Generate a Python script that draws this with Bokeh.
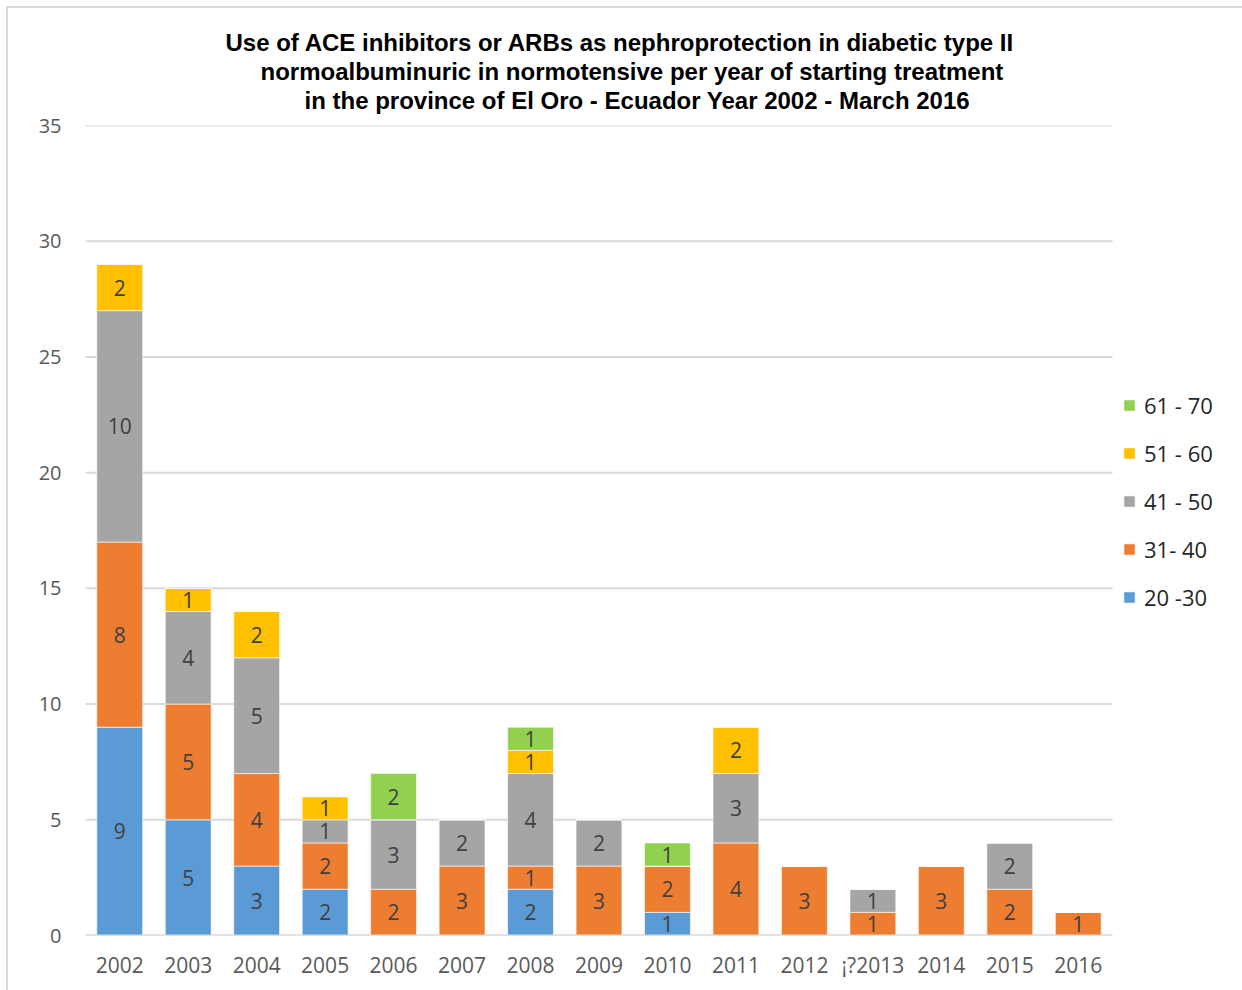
from bokeh.plotting import figure
from bokeh.models import (ColumnDataSource, Range1d, FixedTicker,
                          Legend, LegendItem, Title, LabelSet)
from bokeh.core.properties import value
from bokeh.embed import file_html
from bokeh.resources import INLINE

years = ["2002", "2003", "2004", "2005", "2006", "2007", "2008", "2009",
         "2010", "2011", "2012", "¡?2013", "2014", "2015", "2016"]
age_groups = ["20 -30", "31- 40", "41 - 50", "51 - 60", "61 - 70"]
g20_30 = [9, 5, 3, 2, 0, 0, 2, 0, 1, 0, 0, 0, 0, 0, 0]
g31_40 = [8, 5, 4, 2, 2, 3, 1, 3, 2, 4, 3, 1, 3, 2, 1]
g41_50 = [10, 4, 5, 1, 3, 2, 4, 2, 0, 3, 0, 1, 0, 2, 0]
g51_60 = [2, 1, 2, 1, 0, 0, 1, 0, 0, 2, 0, 0, 0, 0, 0]
g61_70 = [0, 0, 0, 0, 2, 0, 1, 0, 1, 0, 0, 0, 0, 0, 0]
colors = ["#5B9BD5", "#ED7D31", "#A5A5A5", "#FFC000", "#92D050"]
y_ticks = [0, 5, 10, 15, 20, 25, 30, 35]

title_lines = [
    "Use of ACE inhibitors or ARBs as nephroprotection  in diabetic type II",
    "normoalbuminuric in normotensive per year of starting treatment",
    "in the province of El Oro - Ecuador  Year 2002 - March 2016",
]

# layout (pixels)
W, H = 1242, 990
FRAME_L, FRAME_T, FRAME_B = 85, 125, 55
PLOT_W = 1027                 # width used by the 15 categories
n = len(years)
x_pos = list(range(n))
cat_px = PLOT_W / n
extra_units = (W - FRAME_L - PLOT_W) / cat_px   # room for the legend
x_lo, x_hi = -0.5, n - 0.5

series = [g20_30, g31_40, g41_50, g51_60, g61_70]
keys = ["g20_30", "g31_40", "g41_50", "g51_60", "g61_70"]
data = {"x": x_pos, "year": years}
for k, s in zip(keys, series):
    data[k] = s
source = ColumnDataSource(data)

p = figure(x_range=Range1d(x_lo, x_hi + extra_units),
           y_range=Range1d(0, 35),
           width=W, height=H, output_backend="svg",
           toolbar_location=None,
           min_border_left=FRAME_L, min_border_right=0,
           min_border_top=FRAME_T, min_border_bottom=FRAME_B)
p.title = None
p.outline_line_color = None
p.background_fill_color = "white"
p.border_fill_alpha = 0
p.styles = {
    "background-image": "linear-gradient(#d9d9d9, #d9d9d9), linear-gradient(#d9d9d9, #d9d9d9)",
    "background-position": "6px 6px, 6px 6px",
    "background-size": "2px 100%, 100% 2px",
    "background-repeat": "no-repeat, no-repeat",
    "background-color": "white",
}
p.xgrid.visible = False
p.ygrid.visible = False

# horizontal gridlines limited to the category area (behind the bars)
grid_src = ColumnDataSource(dict(y=y_ticks, x0=[x_lo] * len(y_ticks),
                                 x1=[x_hi] * len(y_ticks)))
p.segment(x0="x0", x1="x1", y0="y", y1="y", source=grid_src,
          line_color="#d9d9d9", line_width=2)

renderers = p.vbar_stack(keys, x="x", width=0.67, source=source,
                         fill_color=colors, line_color="white",
                         line_width=1, line_alpha=0.6)

# zero line drawn over the bars
p.segment(x0=[x_lo], x1=[x_hi], y0=[y_ticks[0]], y1=[y_ticks[0]],
          line_color="#d9d9d9", line_width=2)

# segment labels
lx, ly, lt = [], [], []
for i in x_pos:
    base = 0
    for s in series:
        v = s[i]
        if v > 0:
            lx.append(i)
            ly.append(base + v / 2)
            lt.append(str(v))
        base += v
lsrc = ColumnDataSource(dict(x=lx, y=ly, t=lt))
labels = LabelSet(x="x", y="y", text="t", source=lsrc,
                  text_align="center", text_baseline="middle",
                  text_font=value("Open Sans"), text_font_size=value("21px"),
                  text_color=value("#404040"))
p.add_layout(labels)

p.yaxis.ticker = FixedTicker(ticks=y_ticks)
p.xaxis.ticker = FixedTicker(ticks=x_pos)
p.xaxis.major_label_overrides = {i: y for i, y in zip(x_pos, years)}
for ax in (p.xaxis, p.yaxis):
    ax.axis_line_color = None
    ax.major_tick_line_color = None
    ax.minor_tick_line_color = None
    ax.major_label_text_font = "Open Sans"
    ax.major_label_text_color = "#595959"
p.yaxis.major_label_text_font_size = "20px"
p.yaxis.major_label_standoff = 18
p.xaxis.major_label_text_font_size = "21px"
p.xaxis.major_label_standoff = 9

items = [LegendItem(label=age_groups[i], renderers=[renderers[i]])
         for i in range(4, -1, -1)]
legend = Legend(items=items, location=(1037, 323), padding=0, margin=0,
                border_line_color=None, background_fill_alpha=0,
                glyph_width=14, glyph_height=14, label_height=30,
                spacing=18, label_standoff=8,
                label_text_font="Open Sans", label_text_font_size="22px",
                label_text_color="#262626")
p.add_layout(legend)

# spacer between frame and title block, then the three title lines
p.add_layout(Title(text=" ", standoff=0, text_font_size="9px"), "above")
offsets = [140, 175, 219]
for line, off in reversed(list(zip(title_lines, offsets))):
    p.add_layout(Title(text=line, align="left", offset=off, standoff=0,
                       text_font="Liberation Sans", text_font_style="bold",
                       text_font_size="24px", text_color="black"), "above")

open("out.html", "w").write(file_html(p, INLINE))
